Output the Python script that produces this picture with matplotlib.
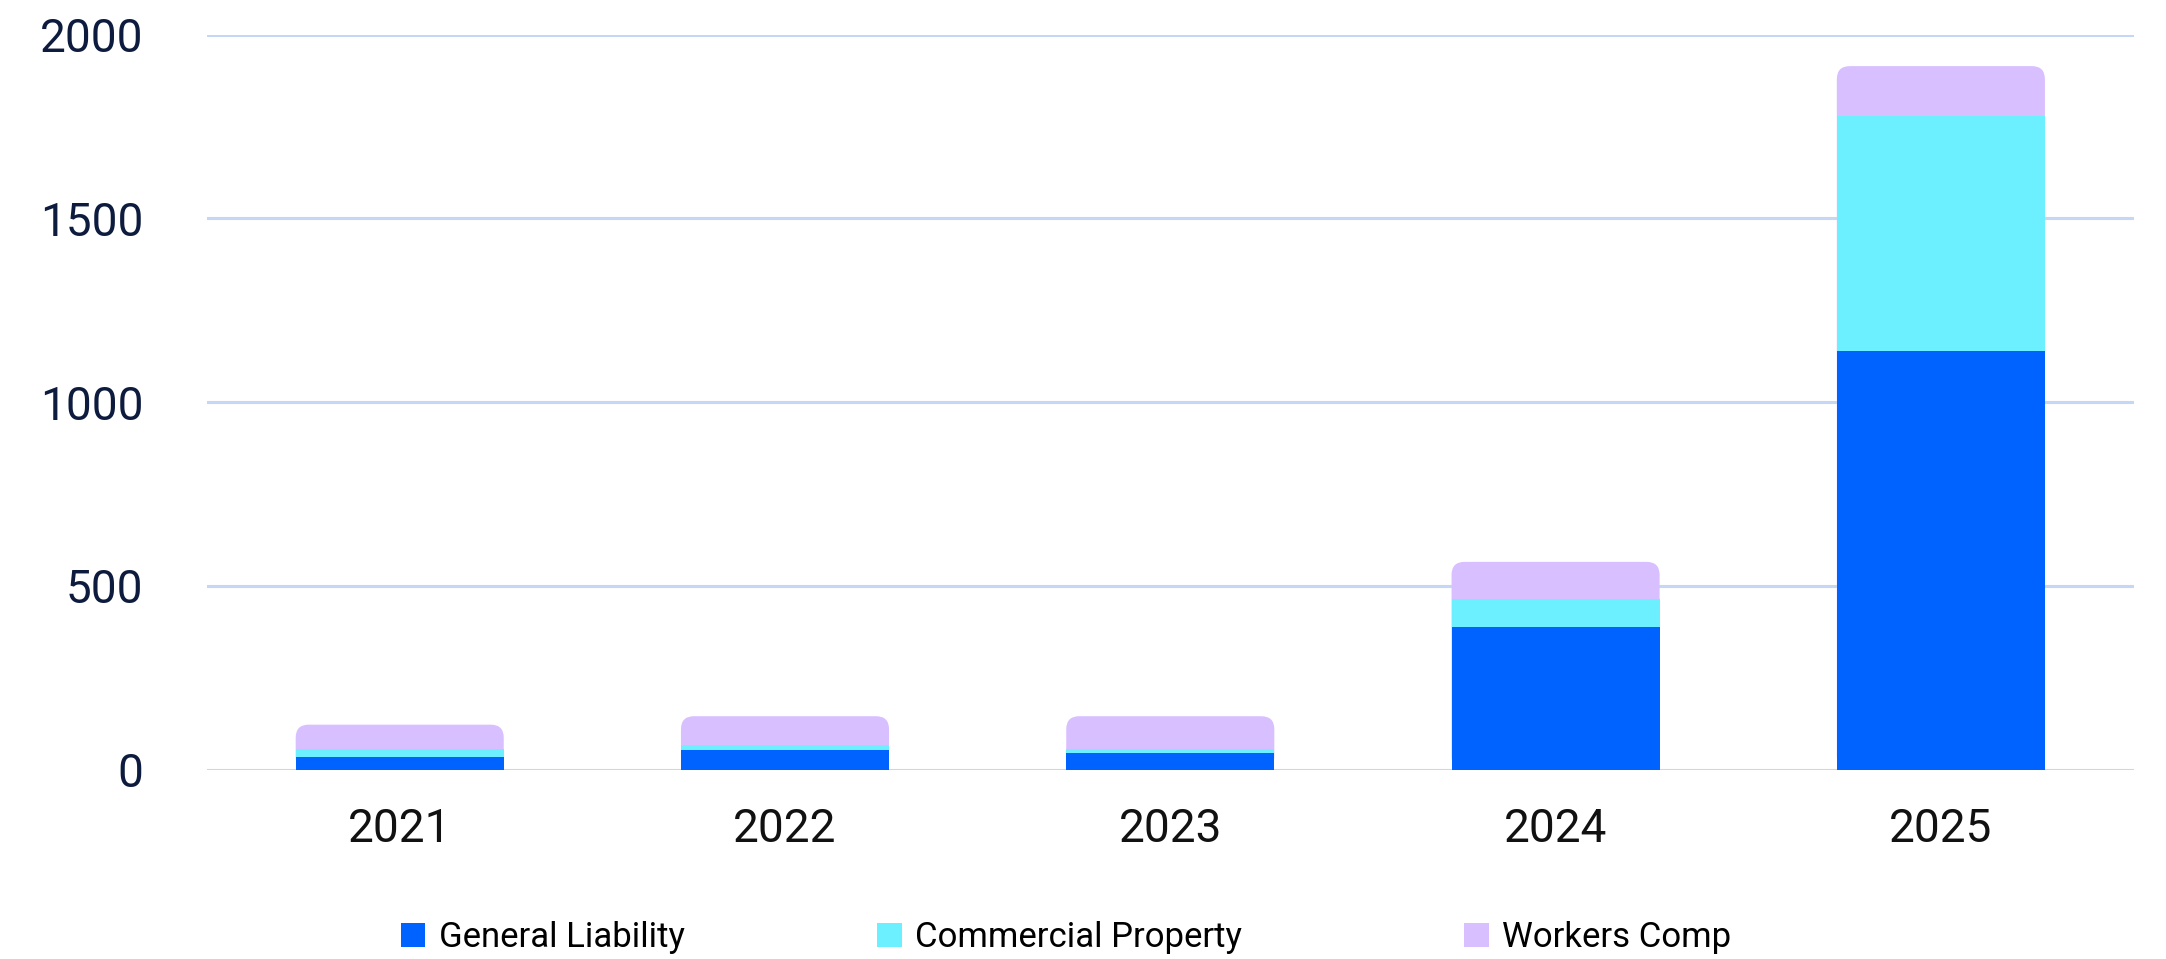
import numpy as np
import matplotlib
matplotlib.use("Agg")
import matplotlib.pyplot as plt
from matplotlib.patches import FancyBboxPatch, Patch

plt.rcParams['font.family'] = ['Roboto', 'DejaVu Sans']

years = ['2021', '2022', '2023', '2024', '2025']
general_liability = [33, 54, 44, 387, 1139]
commercial_property = [22, 13, 11, 77, 640]
workers_comp = [67, 78, 90, 101, 135]
series_names = ['General Liability', 'Commercial Property', 'Workers Comp']

blue = '#0062ff'
cyan = '#6cefff'
purple = '#d8bfff'
grid_color = '#c4d7f6'

fig = plt.figure(figsize=(21.66, 9.59), dpi=100)
ax = fig.add_axes([0.0956, 0.1976, 0.8894, 0.7664])

x = np.arange(len(years))
width = 0.54
gl = np.array(general_liability)
cp = np.array(commercial_property)
wc = np.array(workers_comp)
total = gl + cp + wc

ax.set_xlim(-0.5, len(years) - 0.5)
ax.set_ylim(0, 2000)

# px per data unit, to keep the rounded corners circular
bbox = ax.get_window_extent()
px_x = bbox.width / (len(years))
px_y = bbox.height / 2000
radius_px = 13
aspect = px_x / px_y

# rounded purple column under the other two segments
for xi, t in zip(x, total):
    box = FancyBboxPatch((xi - width / 2, 0), width, t,
                         boxstyle="round,pad=0,rounding_size=%f" % (radius_px / px_x),
                         mutation_aspect=aspect,
                         facecolor=purple, edgecolor='none', zorder=2)
    ax.add_patch(box)
ax.bar(x, cp, width, bottom=gl, color=cyan, zorder=3)
ax.bar(x, gl, width, color=blue, zorder=4)

ax.set_yticks([0, 500, 1000, 1500, 2000])
ax.set_xticks(x)
ax.set_xticklabels(years)
ax.grid(axis='y', color=grid_color, linewidth=2.2)
ax.set_axisbelow(True)
for s in ax.spines.values():
    s.set_visible(False)
ax.tick_params(axis='both', length=0)
ax.tick_params(axis='y', labelsize=33, labelcolor='#0d1b3e', pad=46)
ax.tick_params(axis='x', labelsize=33, labelcolor='#111111', pad=27)

# legend entries placed one by one
for name, color, lx in zip(series_names, [blue, cyan, purple], [0.185, 0.405, 0.676]):
    leg = fig.legend(handles=[Patch(facecolor=color, label=name)],
                     loc='center left', bbox_to_anchor=(lx, 0.022),
                     frameon=False, fontsize=25, handlelength=0.7,
                     handleheight=0.7, handletextpad=0.4,
                     borderpad=0, borderaxespad=0)

fig.savefig('out.png', dpi=100)
